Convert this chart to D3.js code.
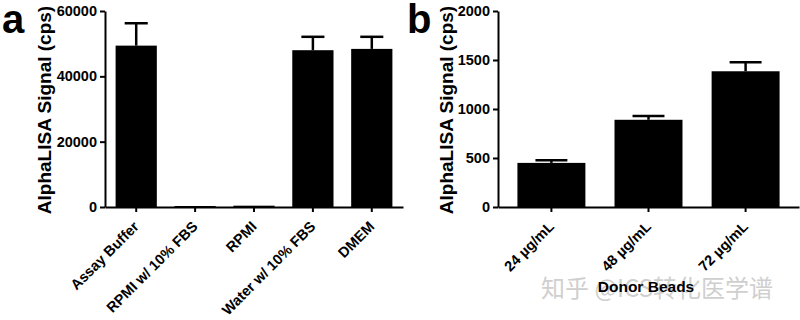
<!DOCTYPE html>
<html>
<head>
<meta charset="utf-8">
<script src="https://cdn.jsdelivr.net/npm/d3@7"></script>
<style>
  body { margin: 0; background: #fff; }
  svg { font-family: "Liberation Sans", Arial, sans-serif; }
  .axis path, .axis line { stroke: #000; stroke-width: 2px; }
  .axis text { font-size: 14.5px; font-weight: bold; fill: #000; }
</style>
</head>
<body>
<div id="chart"></div>
<script>
// Panel a data
const mediaLabels = ["Assay Buffer", "RPMI w/ 10% FBS", "RPMI", "Water w/ 10% FBS", "DMEM"];
const mediaSignal = [49400, 300, 400, 48000, 48400];
const mediaError = [6850, 0, 0, 4100, 3700];
const mediaTicks = [0, 20000, 40000, 60000];

// Panel b data
const beadLabels = ["24 µg/mL", "48 µg/mL", "72 µg/mL"];
const beadSignal = [450, 890, 1385];
const beadError = [28, 38, 92];
const beadTicks = [0, 500, 1000, 1500, 2000];

const width = 800, height = 320;
const baseY = 207, topY = 11;

const svg = d3.select("#chart")
  .append("svg")
  .attr("width", width)
  .attr("height", height);

// watermark (drawn first so the chart stays on top)
svg.append("text")
  .attr("x", 541)
  .attr("y", 297)
  .attr("fill", "#cfcfcf")
  .style("font-family", "'Noto Sans CJK SC', sans-serif")
  .style("font-size", "24px")
  .text("知乎 @ICS转化医学谱");

function drawPanel(opts) {
  const g = svg.append("g");

  const x = d3.scaleBand()
    .domain(opts.labels)
    .range(opts.xRange)
    .paddingInner(0.3)
    .paddingOuter(opts.padOuter);

  const y = d3.scaleLinear()
    .domain([0, opts.max])
    .range([baseY, topY]);

  // bars
  g.selectAll(".bar")
    .data(opts.values)
    .enter().append("rect")
    .attr("x", (d, i) => x(opts.labels[i]))
    .attr("y", d => y(d))
    .attr("width", x.bandwidth())
    .attr("height", d => baseY - y(d))
    .attr("fill", "#000");

  // error bars (upper only)
  const capW = x.bandwidth() * opts.cap;
  const err = g.selectAll(".err")
    .data(opts.values.map((v, i) => ({ v: v, e: opts.errors[i], c: opts.labels[i] })).filter(d => d.e > 0))
    .enter().append("g");

  err.append("line")
    .attr("x1", d => x(d.c) + x.bandwidth() / 2)
    .attr("x2", d => x(d.c) + x.bandwidth() / 2)
    .attr("y1", d => y(d.v))
    .attr("y2", d => y(d.v + d.e))
    .attr("stroke", "#000")
    .attr("stroke-width", 2.5);

  err.append("line")
    .attr("x1", d => x(d.c) + x.bandwidth() / 2 - capW / 2)
    .attr("x2", d => x(d.c) + x.bandwidth() / 2 + capW / 2)
    .attr("y1", d => y(d.v + d.e))
    .attr("y2", d => y(d.v + d.e))
    .attr("stroke", "#000")
    .attr("stroke-width", 2.5);

  // Y axis
  g.append("g")
    .attr("class", "axis")
    .attr("transform", "translate(" + opts.xRange[0] + ",0)")
    .call(d3.axisLeft(y).tickValues(opts.ticks).tickFormat(d3.format("d")).tickSize(5).tickSizeOuter(0).tickPadding(3));

  // X axis
  const xAxis = g.append("g")
    .attr("class", "axis")
    .attr("transform", "translate(0," + baseY + ")")
    .call(d3.axisBottom(x).tickSize(5).tickSizeOuter(0));

  xAxis.selectAll("text")
    .attr("text-anchor", "end")
    .attr("x", -12)
    .attr("y", 17)
    .attr("dy", 0)
    .attr("transform", "rotate(-45)");

  // Y axis title
  g.append("text")
    .attr("transform", "translate(" + opts.titleX + "," + ((baseY + topY) / 2 + 1) + ") rotate(-90)")
    .attr("text-anchor", "middle")
    .attr("font-weight", "bold")
    .style("font-size", "19px")
    .text("AlphaLISA Signal (cps)");

  // panel letter
  g.append("text")
    .attr("x", opts.letterX)
    .attr("y", 33)
    .attr("font-weight", "bold")
    .style("font-size", "40px")
    .text(opts.letter);

  return g;
}

drawPanel({
  labels: mediaLabels, values: mediaSignal, errors: mediaError, ticks: mediaTicks,
  max: 60000, xRange: [105, 403], padOuter: 0.18, cap: 0.56,
  titleX: 51, letterX: 2, letter: "a"
});

const gb = drawPanel({
  labels: beadLabels, values: beadSignal, errors: beadError, ticks: beadTicks,
  max: 2000, xRange: [498, 799], padOuter: 0.2, cap: 0.47,
  titleX: 453, letterX: 407, letter: "b"
});

gb.append("text")
  .attr("x", 646)
  .attr("y", 292)
  .attr("text-anchor", "middle")
  .attr("font-weight", "bold")
  .style("font-size", "15.5px")
  .text("Donor Beads");
</script>
</body>
</html>
